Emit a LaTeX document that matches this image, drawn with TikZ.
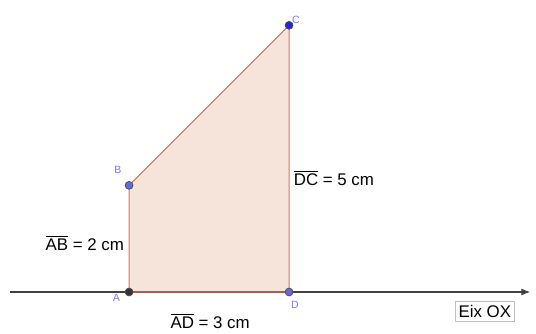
\documentclass[tikz,border=0pt]{standalone}
\usepackage{fontspec}
\setmainfont{Liberation Sans}
\usepackage{tikz}
\usetikzlibrary{positioning,arrows.meta}

\definecolor{rosa}{RGB}{246,228,219}
\definecolor{vora}{RGB}{205,120,90}
\definecolor{punt}{RGB}{40,40,200}
\definecolor{lletra}{RGB}{120,120,255}

\tikzset{
  vertex/.style={circle,draw=black!70,fill=#1,inner sep=0pt,minimum size=4.5pt},
  etiq/.style={font=\fontsize{6}{6}\selectfont,text=lletra,inner sep=0pt},
  mida/.style={font=\fontsize{9.6}{9.6}\selectfont,inner sep=1pt}
}

\begin{document}
\begin{tikzpicture}[x=1.0667cm,y=1.0667cm]
			\useasboundingbox (-2.42,-0.77) rectangle (7.63,5.475);

			\coordinate (a) at (0,0);
			\coordinate (b) at (0,2);
			\coordinate (c) at (3,5);
			\coordinate (d) at (3,0);
			\coordinate (ox0) at (-2.23,0);
			\coordinate (ox1) at (7.52,0);

			\fill[rosa] (a) -- (b) -- (c) -- (d) -- cycle;
			\draw[-{Latex[length=5pt,width=4pt]},black!75,semithick] (ox0) -- (ox1);
			\draw[vora,semithick] (a) -- (b) -- (c) -- (d) -- (a);

			\node[vertex=black!80] (A) at (a) {};
			\node[vertex=punt!70] (B) at (b) {};
			\node[vertex=punt] (C) at (c) {};
			\node[vertex=punt!70] (D) at (d) {};

			\node[etiq] at (-0.24,-0.11) {A};
			\node[etiq] at (-0.21,2.29) {B};
			\node[etiq] at (3.13,5.1) {C};
			\node[etiq] at (3.11,-0.24) {D};

			\node[mida] at (-0.83,0.92) {$\overline{\mbox{AB}}$ = 2 cm};
			\node[mida,anchor=west] at (3.05,2.14) {$\overline{\mbox{DC}}$ = 5 cm};
			\node[mida] at (1.52,-0.54) {$\overline{\mbox{AD}}$ = 3 cm};
			\node[mida,draw=black!25,inner sep=2pt] at (6.67,-0.36) {Eix OX};

		\end{tikzpicture}
\end{document}
